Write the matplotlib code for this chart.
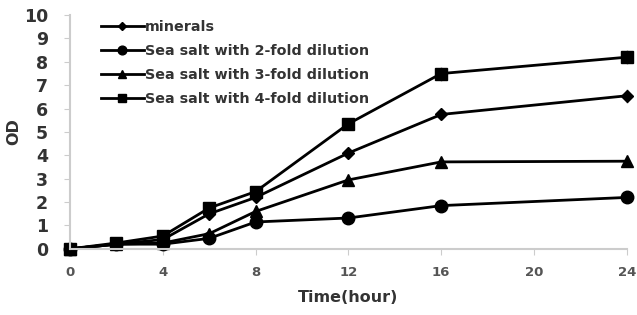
import matplotlib.pyplot as plt

hours = [0, 2, 4, 6, 8, 12, 16, 24]
minerals = [0, 0.2, 0.4, 1.5, 2.2, 4.1, 5.75, 6.55]
salt_2fold = [0, 0.2, 0.2, 0.45, 1.15, 1.32, 1.85, 2.2]
salt_3fold = [0, 0.2, 0.25, 0.65, 1.6, 2.95, 3.72, 3.75]
salt_4fold = [0, 0.25, 0.55, 1.75, 2.45, 5.35, 7.5, 8.2]
err_minerals = [0, 0, 0, 0, 0, 0, 0.15, 0.3]
err_4fold = [0, 0, 0, 0, 0, 0, 0.3, 0.3]

plt.rcParams['font.family'] = ['DejaVu Sans']
fig = plt.figure(figsize=(6.37, 3.15), dpi=100)
ax = fig.add_axes([0.110, 0.21, 0.874, 0.742])

ax.errorbar(hours, minerals, yerr=err_minerals, fmt="none", ecolor="#999999",
            elinewidth=1, capsize=0, clip_on=False)
ax.errorbar(hours, salt_4fold, yerr=err_4fold, fmt="none", ecolor="#999999",
            elinewidth=1, capsize=0, clip_on=False)
l1, = ax.plot(hours, minerals, color="black", marker="D", markersize=6, lw=2,
              clip_on=False, label="minerals")
l2, = ax.plot(hours, salt_2fold, color="black", marker="o", markersize=9, lw=2,
              clip_on=False, label="Sea salt with 2-fold dilution")
l3, = ax.plot(hours, salt_3fold, color="black", marker="^", markersize=9, lw=2,
              clip_on=False, label="Sea salt with 3-fold dilution")
l4, = ax.plot(hours, salt_4fold, color="black", marker="s", markersize=9, lw=2,
              clip_on=False, label="Sea salt with 4-fold dilution")

ax.set_xlim(0, 24)
ax.set_ylim(0, 10)
ax.set_xticks([0, 4, 8, 12, 16, 20, 24])
ax.set_yticks(range(0, 11))
for s in ["top", "right"]:
    ax.spines[s].set_visible(False)
for s in ["left", "bottom"]:
    ax.spines[s].set_color("#cccccc")
    ax.spines[s].set_linewidth(1.5)
ax.tick_params(axis="x", colors="#cccccc", labelcolor="#555555", labelsize=9.5,
               length=4, pad=8)
ax.tick_params(axis="y", colors="#cccccc", labelcolor="#333333", labelsize=12.5,
               length=4, pad=12)
for t in ax.get_xticklabels() + ax.get_yticklabels():
    t.set_fontweight("bold")
ax.set_xlabel("Time(hour)", fontsize=11.5, fontweight="bold", color="#333333", labelpad=8)
ax.set_ylabel("OD", fontsize=11.5, fontweight="bold", color="#333333", labelpad=2)

leg = ax.legend(handles=[l1, l2, l3, l4], loc="upper left", bbox_to_anchor=(0.035, 1.03),
                frameon=False, prop={"size": 10.3, "weight": "bold"}, handlelength=3.0,
                labelspacing=0.72, handletextpad=0.1, markerscale=0.7,
                borderpad=0.3)
for t in leg.get_texts():
    t.set_color("#333333")

fig.savefig("out.png", dpi=100)
